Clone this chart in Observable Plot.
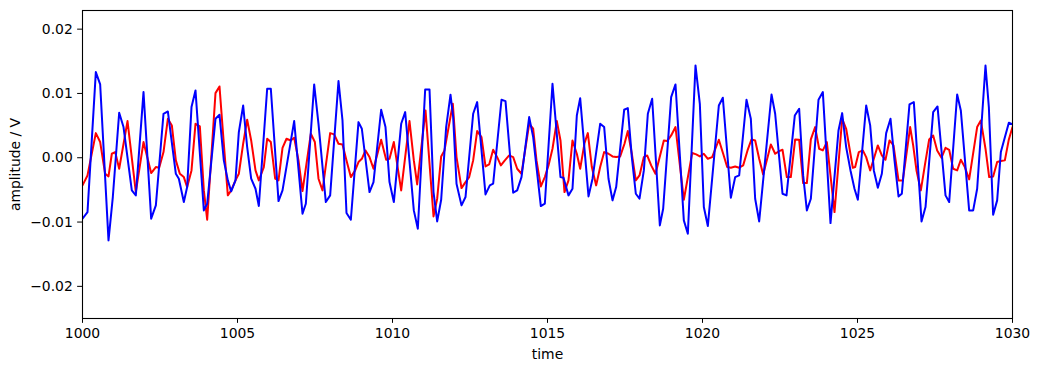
<!DOCTYPE html>
<html><head><meta charset="utf-8">
<script src="https://cdn.jsdelivr.net/npm/d3@7"></script>
<script src="https://cdn.jsdelivr.net/npm/@observablehq/plot@0.6"></script>
<style>body{margin:0;background:#fff} svg{display:block}</style>
</head><body><div id="chart"></div>
<script>
const t0 = 1000;
const xTicks = [1000, 1005, 1010, 1015, 1020, 1025, 1030];
const yTicks = [-0.02, -0.01, 0, 0.01, 0.02];

// time offsets (from 1000) and amplitudes in mV
const blueT = [0,0.161,0.430,0.570,0.839,0.978,1.183,1.323,1.591,1.720,1.968,2.215,2.366,2.613,2.753,3.011,3.108,3.269,3.376,3.516,3.645,3.914,4.022,4.290,4.419,4.559,4.688,4.796,4.935,5.043,5.183,5.312,5.441,5.581,5.688,5.957,6.075,6.323,6.452,6.828,7.097,7.204,7.473,7.613,7.849,7.989,8.258,8.387,8.516,8.656,8.903,9.011,9.258,9.387,9.634,9.774,9.903,10.043,10.280,10.409,10.688,10.817,11.054,11.194,11.323,11.441,11.570,11.731,11.871,11.957,12.065,12.226,12.355,12.602,12.731,13.000,13.140,13.247,13.516,13.645,13.893,14.022,14.161,14.409,14.538,14.645,14.785,14.914,15.161,15.419,15.516,15.677,15.806,15.946,16.054,16.323,16.452,16.699,16.828,16.968,17.097,17.215,17.473,17.591,17.720,17.849,17.968,18.108,18.237,18.376,18.624,18.731,18.989,19.129,19.398,19.527,19.774,19.914,20.043,20.172,20.527,20.656,20.914,21.054,21.183,21.419,21.559,21.699,21.828,22.226,22.344,22.581,22.710,22.978,23.118,23.247,23.366,23.495,23.742,23.882,24.129,24.387,24.505,24.634,24.774,24.903,25.011,25.280,25.409,25.527,25.656,25.785,25.925,26.065,26.194,26.323,26.430,26.677,26.817,27.065,27.194,27.441,27.581,27.839,27.957,28.215,28.333,28.602,28.731,28.860,29.129,29.237,29.376,29.505,29.624,29.882,30.000];
const blueMV = [-9.48,-8.45,13.32,11.40,-12.85,-6.11,7.00,4.77,-5.08,-5.85,10.21,-9.48,-7.41,6.84,7.20,-2.49,-3.26,-6.89,-4.56,7.88,10.47,-8.19,-7.15,6.06,6.68,-0.41,-3.52,-5.23,-3.52,3.99,8.13,1.66,-3.26,-4.82,-7.51,10.73,10.73,-6.74,-5.08,5.70,-8.70,-7.15,11.40,5.28,-6.89,-5.85,11.92,5.80,-8.60,-9.64,5.54,4.51,-5.34,-3.78,7.46,4.77,-3.78,-6.89,5.28,7.10,-8.19,-11.04,10.62,10.62,-5.34,-9.90,-6.53,4.77,9.80,6.32,-4.04,-7.41,-6.11,6.84,8.65,-5.70,-4.30,-4.04,9.02,8.81,-5.44,-5.08,-3.01,6.32,3.21,-1.45,-7.51,-7.15,11.50,-3.01,-3.11,-5.85,-4.82,6.58,9.27,-6.01,-3.26,5.28,4.77,-3.26,-6.63,-4.56,7.46,7.72,0.10,-5.60,-6.37,-1.97,6.84,9.17,-10.52,-7.93,9.43,11.40,-9.74,-11.81,14.35,8.39,-7.67,-10.62,8.13,9.33,-6.22,-3.01,-2.75,9.02,6.06,-6.37,-9.90,9.84,6.84,-5.60,-5.85,6.58,7.62,-2.75,-8.19,-6.37,9.02,10.21,-10.16,4.25,6.94,1.66,-1.97,-4.82,-6.53,8.13,5.03,-1.97,-4.66,-2.49,3.83,6.06,-0.41,-6.01,-5.60,8.29,8.65,-9.90,-7.67,7.10,7.98,-5.85,-6.89,9.84,7.36,-8.19,-8.19,-4.82,14.35,7.88,-8.86,-6.63,0.88,5.44,5.18];

const redT = [0,0.161,0.430,0.570,0.731,0.839,0.946,1.054,1.183,1.452,1.720,1.968,2.215,2.366,2.473,2.613,2.753,2.882,3.011,3.140,3.269,3.376,3.516,3.645,3.785,3.914,4.022,4.290,4.419,4.559,4.688,4.796,4.935,5.043,5.183,5.312,5.441,5.581,5.688,5.849,5.957,6.075,6.215,6.323,6.452,6.581,6.720,6.828,6.968,7.097,7.366,7.495,7.613,7.742,7.989,8.118,8.258,8.387,8.516,8.656,8.796,8.903,9.011,9.129,9.258,9.387,9.634,9.796,9.903,10.043,10.280,10.548,10.688,10.796,11.065,11.323,11.441,11.570,11.677,11.946,12.065,12.226,12.333,12.473,12.602,12.731,12.871,13.000,13.118,13.247,13.376,13.495,13.624,13.763,13.893,14.022,14.161,14.409,14.538,14.645,14.785,14.914,15.032,15.161,15.301,15.419,15.548,15.677,15.806,15.946,16.054,16.194,16.301,16.430,16.570,16.699,16.828,16.968,17.097,17.215,17.344,17.484,17.591,17.720,17.849,17.968,18.108,18.215,18.344,18.484,18.753,18.860,18.989,19.129,19.398,19.667,19.796,19.914,20.043,20.172,20.312,20.527,20.667,20.796,20.914,21.054,21.183,21.312,21.452,21.581,21.699,21.828,21.957,22.204,22.344,22.473,22.581,22.720,22.849,22.989,23.118,23.247,23.366,23.495,23.634,23.763,23.882,24.011,24.258,24.505,24.634,24.849,24.925,25.043,25.172,25.280,25.409,25.527,25.656,25.785,25.903,26.032,26.161,26.323,26.462,26.699,26.796,26.903,27.043,27.172,27.312,27.441,27.570,27.710,27.839,27.957,28.086,28.215,28.333,28.462,28.602,28.860,28.978,29.129,29.247,29.376,29.505,29.624,29.753,29.882,30.000];
const redMV = [-4.30,-2.75,3.83,2.44,-2.49,-2.90,0.62,0.88,-1.71,5.70,-5.34,2.44,-2.38,-1.45,-1.55,0.88,6.06,5.03,-0.41,-2.49,-3.01,-4.56,-1.97,5.28,4.87,-5.08,-9.64,10.05,11.09,2.18,-5.85,-5.08,-3.52,-2.49,2.18,5.91,2.69,-1.97,-3.52,-1.45,2.95,2.44,-3.26,-3.52,1.55,2.95,2.69,3.11,-0.41,-5.18,3.73,2.44,-3.26,-5.08,3.83,3.63,2.18,2.07,-0.41,-3.01,-1.97,-0.67,-0.16,1.14,0.10,-1.71,2.80,-0.31,-0.16,2.44,-5.08,5.70,-0.41,-4.15,7.36,-9.12,-6.37,0.21,1.14,8.39,0.10,-4.72,-3.94,-3.01,-0.41,4.15,3.21,-1.35,-1.04,1.24,0.10,-1.19,-0.41,0.36,0.10,-1.71,-2.49,5.28,4.51,-0.41,-4.46,-3.01,-1.19,1.40,5.70,2.69,-5.34,-3.52,2.69,0.62,-1.71,2.28,3.83,-1.45,-4.30,-1.45,0.88,0.62,0.21,0.10,0.21,2.18,4.15,0.62,-3.52,-2.75,0.10,0.36,-1.19,-2.49,2.69,2.59,3.47,4.77,-6.53,0.73,0.52,0.21,0.62,-0.16,0.10,2.80,0.62,-1.45,-1.55,-1.35,-1.55,-1.19,1.14,2.85,2.69,-0.16,-2.59,2.07,0.62,1.04,1.24,-3.01,-3.01,2.85,2.80,-3.94,-3.94,2.85,4.77,1.40,1.14,2.44,-8.45,6.06,4.51,-1.55,-1.45,0.88,1.14,0.10,-1.97,-0.16,1.92,0.36,-0.31,2.69,1.92,-3.52,-3.52,4.77,1.92,-1.97,-5.08,-1.19,2.85,3.47,1.14,0.00,1.55,1.24,-1.71,-1.97,-0.31,-1.45,-3.37,4.77,5.80,1.40,-3.01,-2.90,-0.67,-0.52,-0.41,2.85,4.77];

const blue = blueT.map((t, i) => ({time: t0 + t, amp: blueMV[i] / 1000}));
const red = redT.map((t, i) => ({time: t0 + t, amp: redMV[i] / 1000}));

const chart = Plot.plot({
  width: 1039, height: 371,
  marginLeft: 82, marginRight: 27, marginTop: 10, marginBottom: 53,
  style: {fontFamily: "DejaVu Sans", fontSize: "13.9px", color: "black", background: "white", overflow: "visible"},
  x: {domain: [1000, 1030]},
  y: {domain: [-0.025, 0.0229]},
  marks: [
    Plot.line(red, {x: "time", y: "amp", stroke: "#ff0000", strokeWidth: 2, clip: true}),
    Plot.line(blue, {x: "time", y: "amp", stroke: "#0000ff", strokeWidth: 2, clip: true}),
    Plot.frame({stroke: "black", strokeWidth: 1.1}),
    Plot.axisX({ticks: xTicks, tickFormat: d => String(d), tickSize: 4.86, tickPadding: 4.86, label: "time", labelAnchor: "center", labelArrow: "none", labelOffset: 40}),
    Plot.axisY({ticks: yTicks, tickFormat: d3.format(".2f"), tickSize: 4.86, tickPadding: 4.86, label: "amplitude / V", labelAnchor: "center", labelArrow: "none", labelOffset: 72})
  ]
});
document.getElementById("chart").appendChild(chart);
</script>
</body></html>
